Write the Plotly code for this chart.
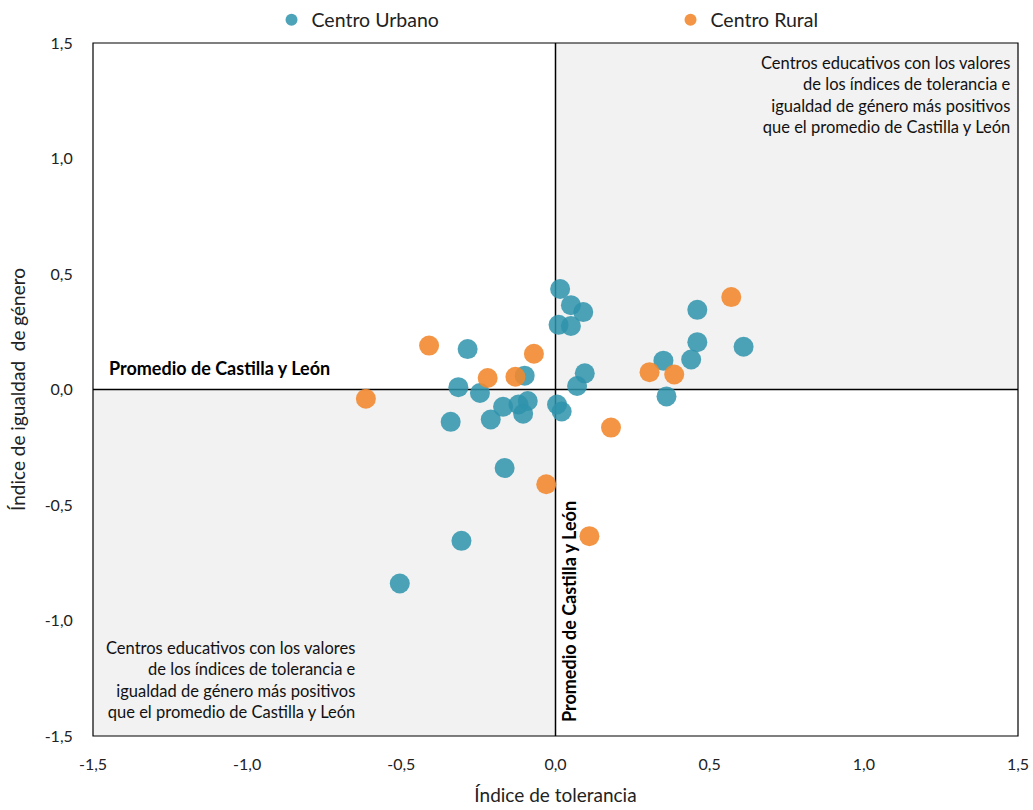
import plotly.graph_objects as go

# Data
urbano_x = [0.015, 0.05, 0.09, 0.01, 0.05, -0.285, -0.10, -0.315, -0.245, -0.09, -0.12, -0.17,
            -0.105, -0.21, -0.34, 0.005, 0.02, -0.165, -0.305, -0.505, 0.095, 0.07, 0.35, 0.46,
            0.46, 0.44, 0.61, 0.36]
urbano_y = [0.435, 0.365, 0.335, 0.28, 0.275, 0.175, 0.06, 0.01, -0.015, -0.05, -0.065, -0.075,
            -0.105, -0.13, -0.14, -0.065, -0.095, -0.34, -0.655, -0.84, 0.07, 0.015, 0.125, 0.345,
            0.205, 0.13, 0.185, -0.03]
rural_x = [-0.41, -0.07, -0.22, -0.13, -0.615, -0.03, 0.11, 0.18, 0.305, 0.385, 0.57]
rural_y = [0.19, 0.155, 0.05, 0.055, -0.04, -0.41, -0.635, -0.165, 0.075, 0.065, 0.40]

tick_vals = [-1.5, -1.0, -0.5, 0.0, 0.5, 1.0, 1.5]
tick_text = ["-1,5", "-1,0", "-0,5", "0,0", "0,5", "1,0", "1,5"]

FONT = "Lato"
C_URB = "#2E93AB"
C_RUR = "#F28A30"
TXT = "#222222"

fig = go.Figure()
fig.add_trace(go.Scatter(x=urbano_x, y=urbano_y, mode="markers", name="Centro Urbano",
                         marker=dict(size=20, color=C_URB, opacity=0.85, line=dict(width=0))))
fig.add_trace(go.Scatter(x=rural_x, y=rural_y, mode="markers", name="Centro Rural",
                         marker=dict(size=20, color=C_RUR, opacity=0.9, line=dict(width=0))))

shapes = [
    dict(type="rect", xref="x", yref="y", x0=0, x1=1.5, y0=0, y1=1.5,
         fillcolor="#F2F2F2", line=dict(width=0), layer="below"),
    dict(type="rect", xref="x", yref="y", x0=-1.5, x1=0, y0=-1.5, y1=0,
         fillcolor="#F2F2F2", line=dict(width=0), layer="below"),
    dict(type="line", xref="x", yref="y", x0=0, x1=0, y0=-1.5, y1=1.5,
         line=dict(color="black", width=1.5), layer="below"),
    dict(type="line", xref="x", yref="y", x0=-1.5, x1=1.5, y0=0, y1=0,
         line=dict(color="black", width=1.5), layer="below"),
    dict(type="rect", xref="paper", yref="paper", x0=0, x1=1, y0=0, y1=1,
         line=dict(color="black", width=1.2), fillcolor="rgba(0,0,0,0)"),
]

quad_text = ("Centros educativos con los valores<br>de los índices de tolerancia e<br>"
             "igualdad de género más positivos<br>que el promedio de Castilla y León")
annotations = [
    dict(x=1.485, y=1.465, xref="x", yref="y", text=quad_text, showarrow=False,
         xanchor="right", yanchor="top", align="right",
         font=dict(family=FONT, size=16.5, color="#111111")),
    dict(x=-0.642, y=-1.065, xref="x", yref="y", text=quad_text, showarrow=False,
         xanchor="right", yanchor="top", align="right",
         font=dict(family=FONT, size=16.5, color="#111111")),
    dict(x=-1.455, y=0.093, xref="x", yref="y", text="<b>Promedio de Castilla y León</b>",
         showarrow=False, xanchor="left", yanchor="middle",
         font=dict(family=FONT, size=18, color="black")),
    dict(x=0.044, y=-1.45, xref="x", yref="y", text="<b>Promedio de Castilla y León</b>",
         showarrow=False, xanchor="center", yanchor="bottom", textangle=-90,
         font=dict(family=FONT, size=18, color="black")),
]

fig.update_layout(
    width=1033, height=810,
    paper_bgcolor="white", plot_bgcolor="white",
    margin=dict(l=93, r=15, t=43, b=74, autoexpand=False),
    font=dict(family=FONT, size=16, color=TXT),
    shapes=shapes, annotations=annotations,
    legend=dict(orientation="h", xref="paper", yref="paper",
                x=0.193, xanchor="left", y=1.033, yanchor="middle",
                font=dict(family=FONT, size=19.5, color=TXT),
                entrywidth=354, itemsizing="constant"),
    xaxis=dict(range=[-1.5, 1.5], tickvals=tick_vals, ticktext=tick_text,
               showgrid=False, zeroline=False, showline=False,
               ticks="outside", ticklen=14, tickcolor="rgba(0,0,0,0)",
               tickfont=dict(family=FONT, size=16, color=TXT),
               title=dict(text="Índice de tolerancia", font=dict(family=FONT, size=19, color=TXT),
                          standoff=16)),
    yaxis=dict(range=[-1.5, 1.5], tickvals=tick_vals, ticktext=tick_text,
               showgrid=False, zeroline=False, showline=False,
               ticks="outside", ticklen=16, tickcolor="rgba(0,0,0,0)",
               tickfont=dict(family=FONT, size=16, color=TXT),
               title=dict(text="Índice de igualdad  de género", font=dict(family=FONT, size=19, color=TXT),
                          standoff=14)),
)

fig.write_html("out.html", config={"displayModeBar": False},
               post_script="document.body.style.margin='0';document.body.style.overflow='hidden';")
